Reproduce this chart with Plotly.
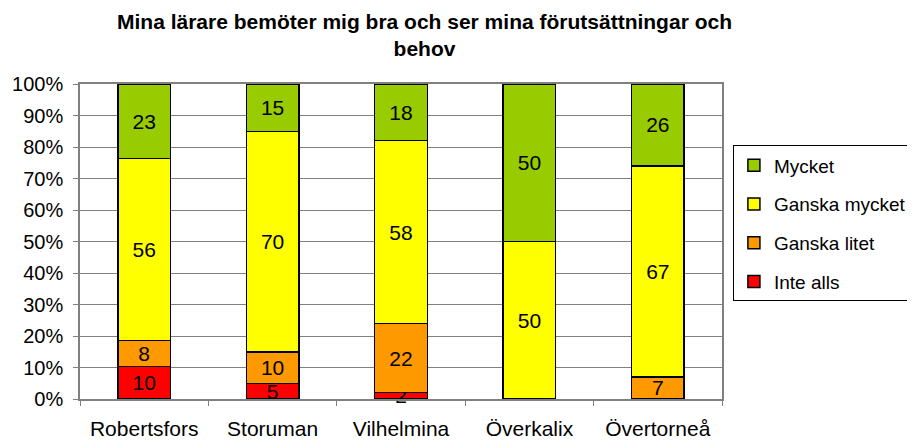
import plotly.graph_objects as go

categories = ["Robertsfors", "Storuman", "Vilhelmina", "Överkalix", "Övertorneå"]
inte_alls = [10, 5, 2, None, None]
ganska_litet = [8, 10, 22, None, 7]
ganska_mycket = [56, 70, 58, 50, 67]
mycket = [23, 15, 18, 50, 26]

series = [
    ("Inte alls", inte_alls, "#FF0000"),
    ("Ganska litet", ganska_litet, "#FF9900"),
    ("Ganska mycket", ganska_mycket, "#FFFF00"),
    ("Mycket", mycket, "#99CC00"),
]

FONT = "Liberation Sans, Arial"

fig = go.Figure()
for i, (name, vals, color) in enumerate(series):
    fig.add_trace(go.Bar(
        name=name, x=categories, y=vals,
        text=["" if v is None else str(v) for v in vals],
        textposition="inside", insidetextanchor="middle",
        constraintext="none", textangle=0,
        textfont=dict(family=FONT, size=21, color="black"),
        marker=dict(color=color, line=dict(color="black", width=1.5)),
        width=0.41, legendgroup=name, legendrank=1000 - i, cliponaxis=False,
    ))

fig.update_layout(
    width=915, height=441,
    barmode="stack", barnorm="percent",
    paper_bgcolor="white", plot_bgcolor="white",
    margin=dict(l=72, r=201, t=76, b=50, autoexpand=False),
    font=dict(family=FONT, size=21, color="black"),
    legend=dict(
        x=1.017, xanchor="left", y=0.805, yanchor="top",
        traceorder="grouped", bordercolor="black", borderwidth=1,
        bgcolor="white", font=dict(size=19), tracegroupgap=11,
        itemwidth=30,
    ),
    showlegend=True,
    annotations=[dict(
        text="<b>Mina lärare bemöter mig bra och ser mina förutsättningar och<br>behov</b>",
        xref="paper", yref="paper", x=0.537, y=1.156,
        xanchor="center", yanchor="middle", showarrow=False,
        font=dict(size=21, family=FONT, color="black"),
    )],
)
fig.update_yaxes(
    range=[0, 100], dtick=10, ticksuffix="%",
    showgrid=True, gridcolor="#808080", gridwidth=1,
    showline=True, linecolor="#808080", linewidth=1.5, mirror=True,
    ticks="outside", ticklen=5, tickcolor="#808080",
    tickfont=dict(size=20), zeroline=False, ticklabelstandoff=6,
)
fig.update_xaxes(
    showline=True, linecolor="#808080", linewidth=1.5, mirror=True,
    ticks="outside", ticklen=5, tickcolor="#808080", tickson="boundaries",
    tickfont=dict(size=21), ticklabelstandoff=10,
)

fig.write_html("out.html")
